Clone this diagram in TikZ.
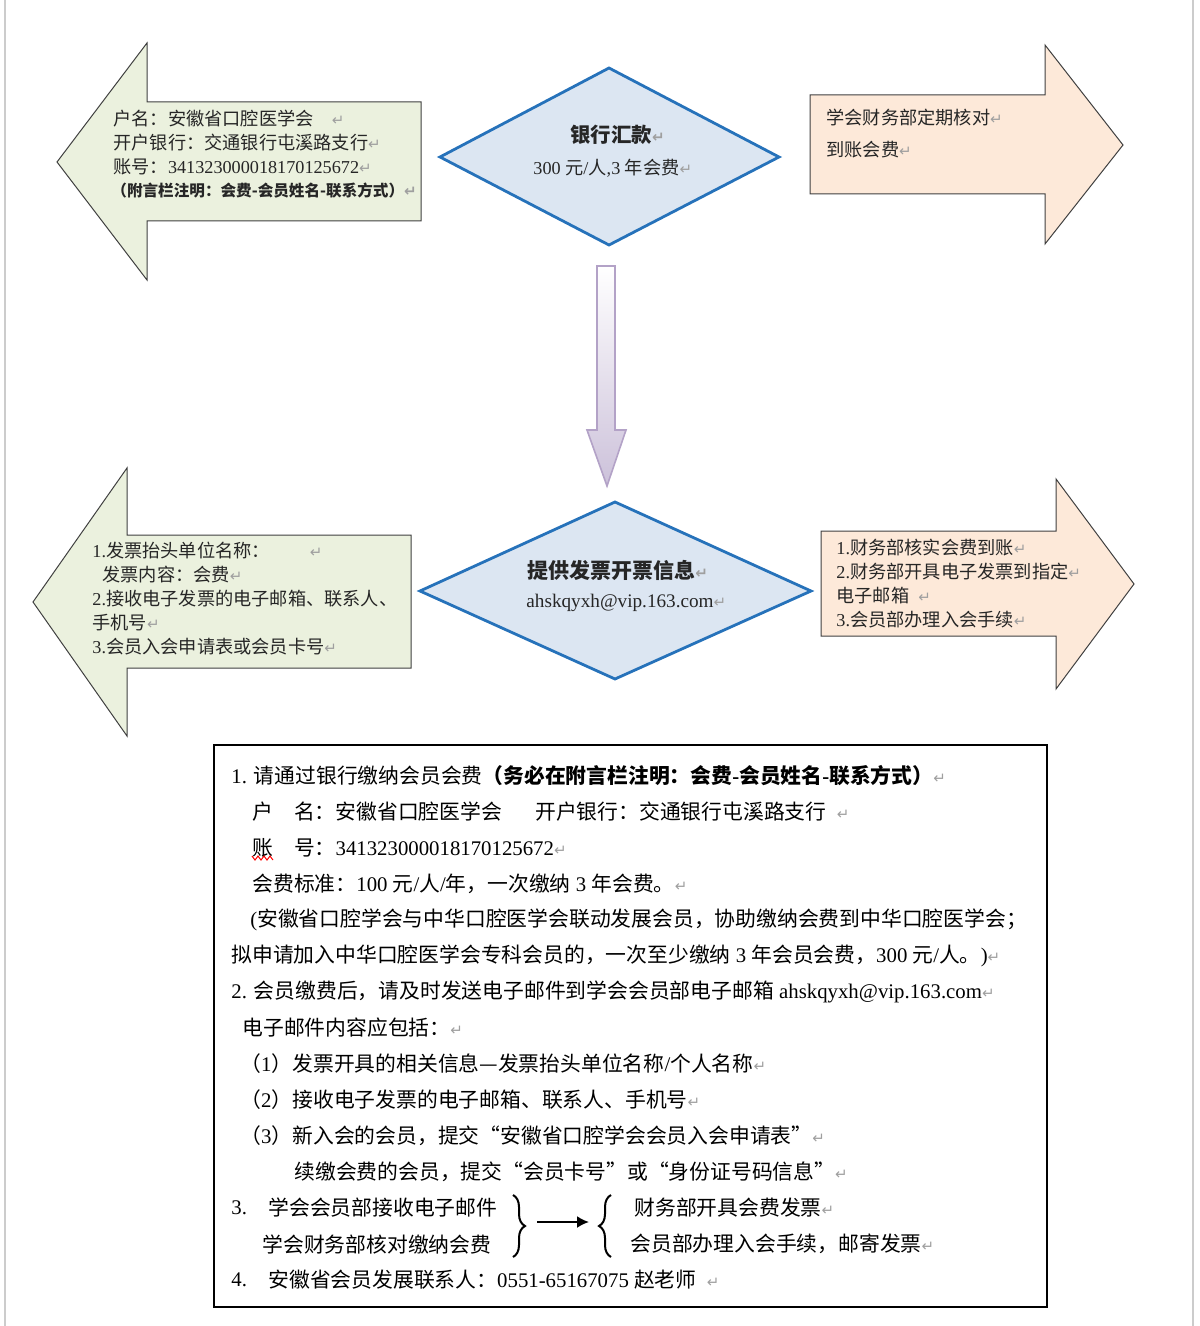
\documentclass[tikz,border=0pt]{standalone}
\usepackage{fontspec}
\setmainfont{Noto Sans CJK SC}
\newfontfamily\lat{Liberation Serif}
\newfontfamily\sym{DejaVu Sans}
\usepackage{tikz}
\usetikzlibrary{positioning,calc,arrows.meta,decorations.pathreplacing}
\definecolor{leaf}{RGB}{235,241,222}
\definecolor{peach}{RGB}{253,233,217}
\definecolor{dfill}{RGB}{220,230,242}
\definecolor{dblue}{RGB}{38,114,186}
\definecolor{lav}{RGB}{204,193,218}
\definecolor{lavline}{RGB}{179,162,199}
\newcommand\pmk{{\sym\color{gray!75}\fontsize{7.5}{7.5}\selectfont ↵}}

\begin{document}
\begin{tikzpicture}
[x=0.5pt,y=-0.5pt,
lbl/.style={anchor=west,inner sep=0pt,text=black!85,font=\fontsize{9.1}{11}\selectfont},
boxt/.style={anchor=west,inner sep=0pt,text=black,font=\fontsize{10.4}{12}\selectfont},
arr/.style={draw=black!75,line width=0.5pt},
dia/.style={draw=dblue,fill=dfill,line width=1.4pt},
brc/.style={decorate,decoration={brace,amplitude=6pt,aspect=0.5},line width=1pt}]
\useasboundingbox (0,0) rectangle (1199,1326);
\draw[gray!40,line width=1pt] (5,0) -- (5,1326) (1193,0) -- (1193,1326);

\draw[arr,fill=leaf] (57,162) -- (147,43) -- (147,102) -- (421,102) -- (421,221) -- (147,221) -- (147,280) -- cycle;
\draw[dia] (440,157) -- (609,68) -- (779,157) -- (609,245) -- cycle;
\draw[arr,fill=peach] (810,95) -- (1045,95) -- (1045,45) -- (1123,145) -- (1045,244) -- (1045,194) -- (810,194) -- cycle;
\draw[draw=lavline,line width=0.8pt,top color=white,bottom color=lav] (597,266) -- (615,266) -- (615,430) -- (626,430) -- (607,486) -- (587,430) -- (597,430) -- cycle;
\draw[arr,fill=leaf] (33,602) -- (127,468) -- (127,535) -- (411,535) -- (411,668) -- (127,668) -- (127,736) -- cycle;
\draw[dia] (420,591) -- (615,502) -- (811,591) -- (615,679) -- cycle;
\draw[arr,fill=peach] (821,531) -- (1056,531) -- (1056,479) -- (1134,584) -- (1056,689) -- (1056,636) -- (821,636) -- cycle;

\node[lbl] (acct1) at (113,119) {户名：安徽省口腔医学会\quad\pmk};
\node[lbl] (acct2) at (113,143) {开户银行：交通银行屯溪路支行\pmk};
\node[lbl] (acct3) at (113,167) {账号：{\lat 341323000018170125672}\pmk};
\node[lbl,font=\fontsize{7.8}{9}\selectfont\bfseries] (acct4) at (111,191) {（附言栏注明：会费-会员姓名-联系方式）\pmk};

\node[lbl,font=\fontsize{10.2}{12}\selectfont\bfseries] (bank1) at (570,135) {银行汇款\pmk};
\node[lbl] (bank2) at (533,168) {{\lat 300 }元{\lat /}人{\lat ,3 }年会费\pmk};

\node[lbl] (check1) at (826,118) {学会财务部定期核对\pmk};
\node[lbl] (check2) at (826,150) {到账会费\pmk};

\node[lbl] (inv1) at (92,551) {{\lat 1.}发票抬头单位名称：\hspace{2.2em}\pmk};
\node[lbl] (inv2) at (102,575) {发票内容：会费\pmk};
\node[lbl] (inv3) at (92,599) {{\lat 2.}接收电子发票的电子邮箱、联系人、};
\node[lbl] (inv4) at (92,623) {手机号\pmk};
\node[lbl] (inv5) at (92,647) {{\lat 3.}会员入会申请表或会员卡号\pmk};

\node[lbl,font=\fontsize{10.5}{12}\selectfont\bfseries] (mail1) at (527,570) {提供发票开票信息\pmk};
\node[lbl,font=\fontsize{9.6}{12}\lat] (mail2) at (526,603) {ahskqyxh@vip.163.com\pmk};

\node[lbl] (fin1) at (836,548) {{\lat 1.}财务部核实会费到账\pmk};
\node[lbl] (fin2) at (836,572) {{\lat 2.}财务部开具电子发票到指定\pmk};
\node[lbl] (fin3) at (836,596) {电子邮箱\enspace\pmk};
\node[lbl] (fin4) at (836,620) {{\lat 3.}会员部办理入会手续\pmk};

\draw[line width=1.2pt] (214,745) rectangle (1047,1307);
\node[boxt] (n1) at (231,776) {{\lat 1. }请通过银行缴纳会员会费{\bfseries（务必在附言栏注明：会费{\lat -}会员姓名{\lat -}联系方式）}\pmk};
\node[boxt] (n2) at (252,812) {户\hspace{1em}名：安徽省口腔医学会\hspace{1.6em}开户银行：交通银行屯溪路支行\enspace\pmk};
\node[boxt] (n3) at (252,848) {账\hspace{1em}号：{\lat 341323000018170125672}\pmk};
\draw[red,line width=0.5pt] (252,856) -- (255,860) -- (258,856) -- (261,860) -- (264,856) -- (267,860) -- (270,856) -- (273,860);
\node[boxt] (n4) at (252,884) {会费标准：{\lat 100 }元{\lat /}人{\lat /}年，一次缴纳{\lat\ 3 }年会费。\pmk};
\node[boxt] (n5) at (250,920) {{\lat (}安徽省口腔学会与中华口腔医学会联动发展会员，协助缴纳会费到中华口腔医学会；};
\node[boxt] (n6) at (231,956) {拟申请加入中华口腔医学会专科会员的，一次至少缴纳{\lat\ 3 }年会员会费，{\lat 300 }元{\lat /}人。{\lat )}\pmk};
\node[boxt] (n7) at (231,992) {{\lat 2. }会员缴费后，请及时发送电子邮件到学会会员部电子邮箱{\lat\ ahskqyxh@vip.163.com}\pmk};
\node[boxt] (n8) at (242,1028) {电子邮件内容应包括：\pmk};
\node[boxt] (n9) at (240,1064) {（{\lat 1}）发票开具的相关信息—发票抬头单位名称{\lat /}个人名称\pmk};
\node[boxt] (n10) at (240,1100) {（{\lat 2}）接收电子发票的电子邮箱、联系人、手机号\pmk};
\node[boxt] (n11) at (240,1136) {（{\lat 3}）新入会的会员，提交“安徽省口腔学会会员入会申请表”\pmk};
\node[boxt] (n12) at (294,1172) {续缴会费的会员，提交“会员卡号”或“身份证号码信息”\pmk};
\node[boxt] (s3) at (231,1208) {{\lat 3.}};
\node[boxt] (n13) at (268,1208) {学会会员部接收电子邮件};
\node[boxt] (n14) at (262,1244) {学会财务部核对缴纳会费};
\node[boxt] (n15) at (634,1208) {财务部开具会费发票\pmk};
\node[boxt] (n16) at (630,1244) {会员部办理入会手续，邮寄发票\pmk};
\node[boxt] (s4) at (231,1280) {{\lat 4.}};
\node[boxt] (n17) at (268,1280) {安徽省会员发展联系人：{\lat 0551-65167075 }赵老师\enspace\pmk};

\draw[brc] (513,1195) -- (513,1257);
\draw[brc] (611,1257) -- (611,1195);
\coordinate (rb) at (537,1222);
\coordinate (lb) at (589,1222);
\draw[-{Latex[length=6pt,width=6pt]},line width=1pt] (rb) -- (lb);
\end{tikzpicture}
\end{document}
